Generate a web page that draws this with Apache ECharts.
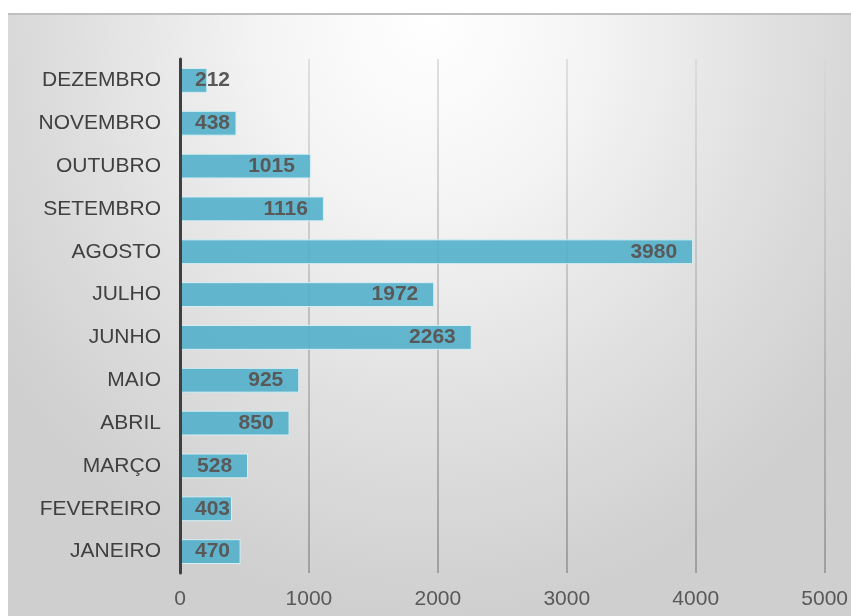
<!DOCTYPE html>
<html>
<head>
<meta charset="utf-8">
<script src="https://cdn.jsdelivr.net/npm/echarts@6/dist/echarts.min.js"></script>
<style>
  html, body { margin: 0; padding: 0; background: #ffffff; }
  #panel {
    position: absolute; left: 8px; top: 13px; width: 843px; height: 603px;
    border-top: 2px solid #bfbfbf; box-sizing: border-box;
    background: radial-gradient(ellipse 62% 100% at 50% 0%, #ffffff 0%, #f5f5f5 30%, #dedede 70%, #cfcfcf 100%);
  }
  #chart { position: absolute; left: 0; top: 0; width: 851px; height: 616px; }
</style>
</head>
<body>
<div id="panel"></div>
<div id="chart"></div>
<script>
// Monthly totals, January to December
const months = ['JANEIRO', 'FEVEREIRO', 'MARÇO', 'ABRIL', 'MAIO', 'JUNHO',
                'JULHO', 'AGOSTO', 'SETEMBRO', 'OUTUBRO', 'NOVEMBRO', 'DEZEMBRO'];
const totals = [470, 403, 528, 850, 925, 2263, 1972, 3980, 1116, 1015, 438, 212];
const axisMax = 5000;
const axisStep = 1000;

const chart = echarts.init(document.getElementById('chart'), null, { renderer: 'canvas' });

const fontFamily = '"Liberation Sans", Arial, sans-serif';
const labelSize = 21;
const ctx = document.createElement('canvas').getContext('2d');
ctx.font = 'bold ' + labelSize + 'px ' + fontFamily;

// Plot geometry used to decide whether a value label fits at the bar end
const gridLeft = 180, gridRight = 25;
const plotWidth = 851 - gridLeft - gridRight;

const barData = totals.map(v => {
  const barPx = v / axisMax * plotWidth;
  const textW = ctx.measureText(String(v)).width;
  const fits = barPx - textW - 16 >= 16;
  return {
    value: v,
    label: fits ? { position: 'insideRight', distance: 16 } : { position: 'insideLeft', distance: 15 }
  };
});

chart.setOption({
  animation: false,
  backgroundColor: 'transparent',
  grid: { left: gridLeft, right: gridRight, top: 59, bottom: 43, containLabel: false },
  xAxis: {
    type: 'value',
    min: 0, max: axisMax, interval: axisStep,
    axisLine: { show: false },
    axisTick: { show: false },
    axisLabel: {
      color: '#595959', fontSize: 21, fontFamily: fontFamily, margin: 16,
      formatter: v => String(v)
    },
    splitLine: {
      lineStyle: {
        width: 1.5,
        color: new echarts.graphic.LinearGradient(0, 0, 0, 1, [
          { offset: 0, color: '#d8d8d8' },
          { offset: 1, color: '#8e8e8e' }
        ])
      }
    }
  },
  yAxis: {
    type: 'category',
    data: months,
    z: 5,
    axisLine: { show: true, lineStyle: { color: '#404040', width: 3 } },
    axisTick: { show: false },
    axisLabel: { color: '#404040', fontSize: 21, fontFamily: fontFamily, margin: 19 }
  },
  series: [{
    type: 'bar',
    data: barData,
    barWidth: '58%',
    itemStyle: {
      color: 'rgba(78, 174, 200, 0.88)',
      borderColor: '#d6eef4',
      borderWidth: 1
    },
    label: {
      show: true,
      color: '#595959',
      fontSize: labelSize,
      fontWeight: 'bold',
      fontFamily: fontFamily
    }
  }]
});
</script>
</body>
</html>
